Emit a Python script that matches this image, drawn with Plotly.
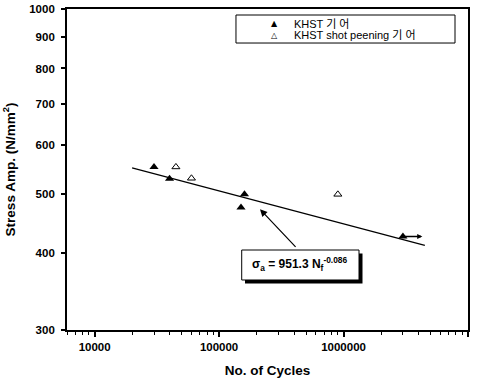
import math
import plotly.graph_objects as go

# ---- data ----
khst_N = [30000, 40000, 150000, 160000, 3000000]
khst_S = [553, 529, 475, 499, 426]
shot_N = [45000, 60000, 900000]
shot_S = [553, 530, 499]
fit_N = [20000, 4500000]
fit_S = [551, 412]
runout_end_N = 4300000

x_tickvals = [1e4, 1e5, 1e6, 1e7]
x_ticktext = ["10000", "100000", "1000000", "1E7"]
x_minor = [m * d for d in (1e3, 1e4, 1e5, 1e6) for m in range(2, 10) if 6000 <= m * d < 1e7]
y_tickvals = [300, 400, 500, 600, 700, 800, 900, 1000]

name_khst = "KHST 기 어"
name_shot = "KHST shot peening 기 어"

FONT = "Liberation Sans, Arial, Noto Sans CJK KR, sans-serif"

fig = go.Figure()
fig.add_trace(go.Scatter(x=fit_N, y=fit_S, mode="lines",
                         line=dict(color="black", width=1.2), showlegend=False))
fig.add_trace(go.Scatter(x=khst_N, y=khst_S, mode="markers", name=name_khst, showlegend=False,
                         marker=dict(symbol="triangle-up", size=8, color="black")))
fig.add_trace(go.Scatter(x=shot_N, y=shot_S, mode="markers", name=name_shot, showlegend=False,
                         marker=dict(symbol="triangle-up-open", size=7, color="black",
                                     line=dict(width=1, color="black"))))

# run-out arrow on the last KHST point
fig.add_annotation(x=math.log10(runout_end_N), y=math.log10(khst_S[-1]), xref="x", yref="y",
                   ax=math.log10(khst_N[-1]), ay=math.log10(khst_S[-1]), axref="x", ayref="y",
                   text="", showarrow=True, arrowhead=2, arrowsize=0.8, arrowwidth=1.3,
                   arrowcolor="black")

# legend box (drawn by hand to match the compact original)
fig.add_shape(type="rect", xref="paper", yref="paper", x0=0.4214, x1=0.9676, y0=0.894, y1=0.9813,
              fillcolor="white", line=dict(color="black", width=1))
for sym, name, yy in (("▲", name_khst, 0.9533), ("△", name_shot, 0.919)):
    fig.add_annotation(x=0.5187, y=yy, xref="paper", yref="paper", showarrow=False,
                       xanchor="center", yanchor="middle",
                       text=sym, font=dict(family="DejaVu Sans", size=8, color="black"))
    fig.add_annotation(x=0.5611, y=yy, xref="paper", yref="paper", showarrow=False,
                       xanchor="left", yanchor="middle", text=name,
                       font=dict(family=FONT, size=11, color="black"))

# equation box with shadow
fig.add_shape(type="rect", xref="paper", yref="paper", x0=0.4439, x1=0.7369, y0=0.1449, y1=0.2383,
              fillcolor="black", line=dict(width=0))
fig.add_shape(type="rect", xref="paper", yref="paper", x0=0.4357, x1=0.7282, y0=0.1558, y1=0.2492,
              fillcolor="white", line=dict(color="black", width=1))
fig.add_annotation(x=0.5786, y=0.2056, xref="paper", yref="paper", showarrow=False,
                   xanchor="center", yanchor="middle",
                   text="<b>σ<sub>a</sub> = 951.3 N<sub>f</sub><sup>-0.086</sup></b>",
                   font=dict(family=FONT, size=12, color="black"))
# pointer arrow from box to fit line
fig.add_annotation(x=0.4813, y=0.376, xref="paper", yref="paper", ax=37, ay=39,
                   text="", showarrow=True, arrowhead=2, arrowsize=1.2, arrowwidth=1.2,
                   arrowcolor="black")

fig.update_layout(
    width=477, height=378,
    margin=dict(l=67, r=9, t=9, b=48, autoexpand=False),
    paper_bgcolor="white", plot_bgcolor="white",
    font=dict(family=FONT, color="black"),
    showlegend=False,
    xaxis=dict(type="log", range=[math.log10(6000), 7], automargin=False,
               tickmode="array", tickvals=x_tickvals, ticktext=x_ticktext,
               ticks="outside", ticklen=5, tickwidth=1.5, tickcolor="black",
               minor=dict(tickmode="array", tickvals=x_minor, ticks="outside", ticklen=3,
                          tickwidth=1, tickcolor="black", showgrid=False),
               showline=True, linewidth=1.8, linecolor="black", mirror=True,
               showgrid=False, zeroline=False,
               tickfont=dict(family=FONT, size=11.5, weight="bold"),
               title=dict(text="<b>No. of Cycles</b>", font=dict(family=FONT, size=13.5))),
    yaxis=dict(type="log", range=[math.log10(300), 3], automargin=False,
               tickmode="array", tickvals=y_tickvals, ticktext=[str(v) for v in y_tickvals],
               ticks="outside", ticklen=4, tickwidth=1.5, tickcolor="black",
               ticklabelstandoff=4,
               showline=True, linewidth=1.8, linecolor="black", mirror=True,
               showgrid=False, zeroline=False,
               tickfont=dict(family=FONT, size=11.5, weight="bold"),
               title=dict(text="<b>Stress Amp. (N/mm<sup>2</sup>)</b>",
                          font=dict(family=FONT, size=13.5))),
)

fig.write_html("out.html", config={"displayModeBar": False},
               post_script="document.body.style.margin='0';")
